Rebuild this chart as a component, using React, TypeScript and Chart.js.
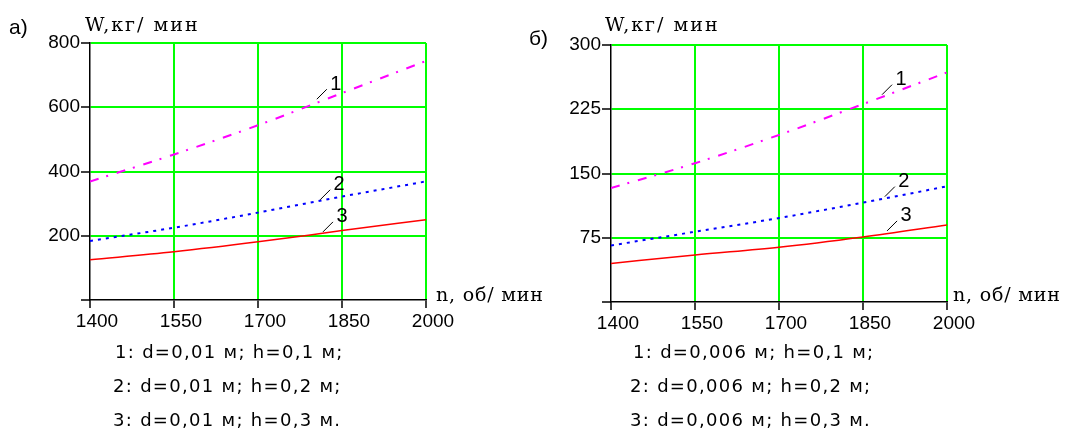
import React, { useEffect, useRef } from 'react';
import { Chart, registerables } from 'chart.js';

Chart.register(...registerables);

// ---- data ----
const nValues = [1400, 1550, 1700, 1850, 2000];
const xTickValues = [1400, 1550, 1700, 1850, 2000];

const seriesA1 = [369, 453, 544, 644, 744];
const seriesA2 = [184, 225, 272, 322, 369];
const seriesA3 = [125, 150, 181, 216, 250];
const yTicksA = [0, 200, 400, 600, 800];

const seriesB1 = [133, 162, 195, 231, 268];
const seriesB2 = [66, 82, 98, 116, 135];
const seriesB3 = [45, 55, 64, 76, 90];
const yTicksB = [0, 75, 150, 225, 300];

const curveNames = ['1', '2', '3'];
const labelNA = [1805, 1811, 1816];
const labelWA = [625, 312, 212];
const labelNB = [1884, 1889, 1893];
const labelWB = [242, 123, 83];

const legendA = ['1: d=0,01 м; h=0,1 м;', '2: d=0,01 м; h=0,2 м;', '3: d=0,01 м; h=0,3 м.'];
const legendB = ['1: d=0,006 м; h=0,1 м;', '2: d=0,006 м; h=0,2 м;', '3: d=0,006 м; h=0,3 м.'];

const curveLabelPlugin = {
  id: 'curveLabels',
  afterDatasetsDraw(chart: any, _args: any, opts: any) {
    const { ctx, scales } = chart;
    const ns: number[] = opts.ns || [];
    const ws: number[] = opts.ws || [];
    const names: string[] = opts.names || [];
    ctx.save();
    ctx.strokeStyle = '#000';
    ctx.fillStyle = '#000';
    ctx.lineWidth = 1;
    ctx.font = '20px "Liberation Sans"';
    ctx.textAlign = 'center';
    ctx.textBaseline = 'middle';
    for (let i = 0; i < names.length; i++) {
      const px = scales.x.getPixelForValue(ns[i]);
      const py = scales.y.getPixelForValue(ws[i]);
      ctx.beginPath();
      ctx.moveTo(px, py);
      ctx.lineTo(px + 10, py - 10);
      ctx.stroke();
      ctx.fillText(names[i], px + 19, py - 15);
    }
    ctx.restore();
  },
};

function makeConfig(
  s1: number[], s2: number[], s3: number[], yTicks: number[],
  ln: number[], lw: number[], yWidth: number, pad: any
): any {
  const toPts = (arr: number[]) => nValues.map((n, i) => ({ x: n, y: arr[i] }));
  const tickFont = { family: '"Liberation Sans"', size: 19 };
  return {
    type: 'line',
    data: {
      datasets: [
        {
          data: toPts(s1), borderColor: '#ff00ff', borderWidth: 2,
          borderDash: [9, 8, 2, 9], pointRadius: 0, cubicInterpolationMode: 'monotone',
        },
        {
          data: toPts(s2), borderColor: '#0000ff', borderWidth: 2,
          borderDash: [3, 5], pointRadius: 0, cubicInterpolationMode: 'monotone',
        },
        {
          data: toPts(s3), borderColor: '#ff0000', borderWidth: 1.5,
          pointRadius: 0, cubicInterpolationMode: 'monotone',
        },
      ],
    },
    options: {
      responsive: false,
      animation: false,
      events: [],
      layout: { padding: pad },
      plugins: {
        legend: { display: false },
        tooltip: { enabled: false },
        title: { display: false },
        curveLabels: { ns: ln, ws: lw, names: curveNames },
      },
      scales: {
        x: {
          type: 'linear',
          min: xTickValues[0],
          max: xTickValues[xTickValues.length - 1],
          afterBuildTicks: (s: any) => { s.ticks = xTickValues.map((v) => ({ value: v })); },
          afterFit: (s: any) => { s.height = 30; },
          grid: {
            color: (c: any) => (c.index === 0 ? 'rgba(0,0,0,0)' : '#00ff00'),
            lineWidth: 2,
            tickColor: '#000',
            tickLength: 8,
            tickWidth: 1.5,
          },
          border: { color: '#000', width: 1.5 },
          ticks: {
            color: '#000', font: tickFont, padding: 2, maxRotation: 0, autoSkip: false,
            labelOffset: 7,
            callback: (v: any) => String(v),
          },
        },
        y: {
          type: 'linear',
          min: yTicks[0],
          max: yTicks[yTicks.length - 1],
          afterBuildTicks: (s: any) => { s.ticks = yTicks.map((v) => ({ value: v })); },
          afterFit: (s: any) => { s.width = yWidth; },
          grid: {
            color: (c: any) => (c.index === 0 ? 'rgba(0,0,0,0)' : '#00ff00'),
            lineWidth: 2,
            tickColor: '#000',
            tickLength: 9,
            tickWidth: 1.5,
          },
          border: { color: '#000', width: 1.5 },
          ticks: {
            color: '#000', font: tickFont, padding: 1, autoSkip: false,
            callback: (v: any) => (v === 0 ? '' : String(v)),
          },
        },
      },
    },
    plugins: [curveLabelPlugin],
  };
}

const textStyle = (left: number, top: number, size: number, family: string, ls = 0): React.CSSProperties => ({
  position: 'absolute', left, top, fontSize: size, fontFamily: family,
  lineHeight: '22px', whiteSpace: 'nowrap', color: '#000', letterSpacing: ls,
});

export default function App() {
  const refA = useRef<HTMLCanvasElement>(null);
  const refB = useRef<HTMLCanvasElement>(null);

  useEffect(() => {
    const a = new Chart(refA.current as any, makeConfig(
      seriesA1, seriesA2, seriesA3, yTicksA, labelNA, labelWA, 90,
      { left: 0, top: 43, right: 108, bottom: 109 }
    ));
    const b = new Chart(refB.current as any, makeConfig(
      seriesB1, seriesB2, seriesB3, yTicksB, labelNB, labelWB, 81,
      { left: 0, top: 45, right: 122, bottom: 107 }
    ));
    return () => { a.destroy(); b.destroy(); };
  }, []);

  const serif = '"DejaVu Serif"';
  const sans = '"DejaVu Sans"';
  return (
    <div style={{ position: 'absolute', left: 0, top: 0, width: 1069, height: 439, background: '#fff', overflow: 'hidden' }}>
      <canvas ref={refA} width={534} height={439} style={{ position: 'absolute', left: 0, top: 0 }} />
      <canvas ref={refB} width={539} height={439} style={{ position: 'absolute', left: 530, top: 0 }} />
      <div style={textStyle(9, 16, 21, '"Liberation Sans"')}>а)</div>
      <div style={textStyle(85, 13, 19, serif, 2)}>W,кг/ мин</div>
      <div style={textStyle(529, 27, 21, '"Liberation Sans"')}>б)</div>
      <div style={textStyle(605, 13, 19, serif, 2)}>W,кг/ мин</div>
      <div style={textStyle(436, 283, 19, serif, 0.8)}>n, об/ мин</div>
      <div style={textStyle(953, 283, 19, serif, 0.8)}>n, об/ мин</div>
      {legendA.map((t, i) => (
        <div key={'a' + i} style={textStyle(i === 0 ? 115 : 113, 341 + i * 34, 18, sans, 1.3)}>{t}</div>
      ))}
      {legendB.map((t, i) => (
        <div key={'b' + i} style={textStyle(i === 0 ? 633 : 630, 341 + i * 34, 18, sans, 1.3)}>{t}</div>
      ))}
    </div>
  );
}
